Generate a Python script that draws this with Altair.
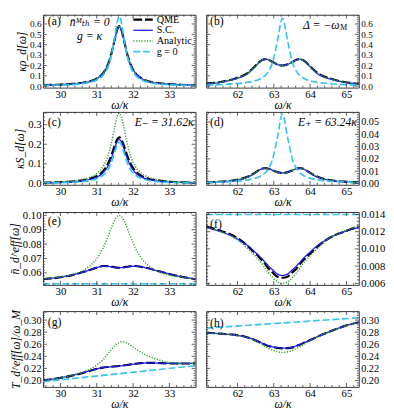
import math
import altair as alt
import pandas as pd

FONT = "Liberation Serif, DejaVu Serif, serif"
W = 157
HEIGHTS = [75, 75, 75, 78]

# ---------------- x grids ----------------
XL = [29.52, 29.92, 30.32, 30.62, 30.82, 31.02, 31.17, 31.30, 31.40, 31.50, 31.56, 31.62,
      31.68, 31.74, 31.84, 31.94, 32.07, 32.22, 32.42, 32.62, 32.92, 33.32, 33.72]
XR = [61.14, 61.54, 61.94, 62.24, 62.44, 62.59, 62.69, 62.77, 62.86, 62.96, 63.09, 63.24,
      63.39, 63.52, 63.62, 63.71, 63.79, 63.89, 64.04, 64.24, 64.54, 64.94, 65.34]
XL_DOMAIN = [29.52, 33.72]
XR_DOMAIN = [61.14, 65.34]
XL_TICKS = [30, 31, 32, 33]
XR_TICKS = [62, 63, 64, 65]

# ---------------- (a) kappa rho_d ----------------
A_QME = [0.0095, 0.0140, 0.0215, 0.0330, 0.0480, 0.0780, 0.1242, 0.2032, 0.3090, 0.4600, 0.5445, 0.5800,
         0.5445, 0.4600, 0.3090, 0.2032, 0.1242, 0.0780, 0.0480, 0.0330, 0.0215, 0.0140, 0.0095]
A_SC = [0.0095, 0.0138, 0.0212, 0.0325, 0.0472, 0.0768, 0.1225, 0.2000, 0.3040, 0.4520, 0.5350, 0.5700,
        0.5350, 0.4520, 0.3040, 0.2000, 0.1225, 0.0768, 0.0472, 0.0325, 0.0212, 0.0138, 0.0095]
A_AN = [0.0093, 0.0137, 0.0212, 0.0328, 0.0478, 0.0780, 0.1245, 0.2040, 0.3100, 0.4620, 0.5470, 0.5830,
        0.5470, 0.4620, 0.3100, 0.2040, 0.1245, 0.0780, 0.0478, 0.0328, 0.0212, 0.0137, 0.0093]
A_G0 = [0.0060, 0.0090, 0.0150, 0.0245, 0.0370, 0.0625, 0.1030, 0.1765, 0.2884, 0.4825, 0.6138, 0.6750,
        0.6138, 0.4825, 0.2884, 0.1765, 0.1030, 0.0625, 0.0370, 0.0245, 0.0150, 0.0090, 0.0060]

# ---------------- (b) ----------------
B_QME = [0.0240, 0.0400, 0.0750, 0.1180, 0.1779, 0.2299, 0.2544, 0.2610, 0.2539, 0.2352, 0.2108, 0.1990,
         0.2108, 0.2352, 0.2539, 0.2610, 0.2544, 0.2299, 0.1779, 0.1180, 0.0750, 0.0400, 0.0240]
B_SC = [0.0225, 0.0375, 0.0700, 0.1100, 0.1700, 0.2260, 0.2530, 0.2600, 0.2530, 0.2345, 0.2100, 0.1985,
        0.2100, 0.2345, 0.2530, 0.2600, 0.2530, 0.2260, 0.1700, 0.1100, 0.0700, 0.0375, 0.0225]
B_AN = [0.0235, 0.0395, 0.0745, 0.1175, 0.1775, 0.2300, 0.2550, 0.2620, 0.2540, 0.2340, 0.2085, 0.1960,
        0.2085, 0.2340, 0.2540, 0.2620, 0.2550, 0.2300, 0.1775, 0.1175, 0.0745, 0.0395, 0.0235]
B_G0 = [0.0100, 0.0150, 0.0240, 0.0350, 0.0480, 0.0650, 0.0830, 0.1050, 0.1450, 0.2220, 0.4200, 0.6550,
        0.4200, 0.2220, 0.1450, 0.1050, 0.0830, 0.0650, 0.0480, 0.0350, 0.0240, 0.0150, 0.0100]

# ---------------- (c) kappa S_d ----------------
C_QME = [0.0038, 0.0058, 0.0097, 0.0160, 0.0240, 0.0396, 0.0622, 0.0977, 0.1412, 0.1962, 0.2240, 0.2350,
         0.2240, 0.1962, 0.1412, 0.0977, 0.0622, 0.0396, 0.0240, 0.0160, 0.0097, 0.0058, 0.0038]
C_SC = [0.0031, 0.0048, 0.0080, 0.0133, 0.0200, 0.0333, 0.0531, 0.0853, 0.1268, 0.1829, 0.2128, 0.2250,
        0.2128, 0.1829, 0.1268, 0.0853, 0.0531, 0.0333, 0.0200, 0.0133, 0.0080, 0.0048, 0.0031]
C_AN = [0.0050, 0.0076, 0.0128, 0.0212, 0.0320, 0.0533, 0.0849, 0.1364, 0.2029, 0.2926, 0.3404, 0.3580,
        0.3404, 0.2926, 0.2029, 0.1364, 0.0849, 0.0533, 0.0320, 0.0212, 0.0128, 0.0076, 0.0050]
C_G0 = [0.0023, 0.0035, 0.0058, 0.0097, 0.0148, 0.0249, 0.0405, 0.0674, 0.1050, 0.1618, 0.1955, 0.2100,
        0.1955, 0.1618, 0.1050, 0.0674, 0.0405, 0.0249, 0.0148, 0.0097, 0.0058, 0.0035, 0.0023]

# ---------------- (d) ----------------
D_QME = [0.00087, 0.00145, 0.00271, 0.00502, 0.00798, 0.01082, 0.01221, 0.01252, 0.01196, 0.01072, 0.00924, 0.00858,
         0.00924, 0.01072, 0.01196, 0.01252, 0.01221, 0.01082, 0.00798, 0.00502, 0.00271, 0.00145, 0.00087]
D_SC = [0.00082, 0.00136, 0.00250, 0.00465, 0.00760, 0.01060, 0.01215, 0.01250, 0.01196, 0.01072, 0.00924, 0.00858,
        0.00924, 0.01072, 0.01196, 0.01250, 0.01215, 0.01060, 0.00760, 0.00465, 0.00250, 0.00136, 0.00082]
D_AN = [0.00087, 0.00145, 0.00271, 0.00500, 0.00795, 0.01080, 0.01220, 0.01250, 0.01190, 0.01060, 0.00900, 0.00820,
        0.00900, 0.01060, 0.01190, 0.01250, 0.01220, 0.01080, 0.00795, 0.00500, 0.00271, 0.00145, 0.00087]
D_G0 = [0.0007, 0.0011, 0.0018, 0.0027, 0.0039, 0.0053, 0.0069, 0.0089, 0.0123, 0.0190, 0.0360, 0.0565,
        0.0360, 0.0190, 0.0123, 0.0089, 0.0069, 0.0053, 0.0039, 0.0027, 0.0018, 0.0011, 0.0007]

# ---------------- (e) n_eff ----------------
E_QME = [0.0556, 0.0567, 0.0585, 0.0606, 0.0622, 0.0638, 0.0648, 0.0647, 0.0643, 0.0639, 0.0637, 0.0636,
         0.0637, 0.0639, 0.0643, 0.0647, 0.0648, 0.0642, 0.0632, 0.0618, 0.0598, 0.0574, 0.0556]
E_SC = [0.0557, 0.0567, 0.0585, 0.0606, 0.0622, 0.0638, 0.0647, 0.0646, 0.0642, 0.0638, 0.0636, 0.0635,
        0.0636, 0.0638, 0.0642, 0.0646, 0.0647, 0.0642, 0.0632, 0.0618, 0.0598, 0.0574, 0.0557]
E_AN = [0.0560, 0.0570, 0.0589, 0.0617, 0.0651, 0.0706, 0.0770, 0.0846, 0.0911, 0.0969, 0.0992, 0.1000,
        0.0992, 0.0969, 0.0911, 0.0846, 0.0770, 0.0706, 0.0651, 0.0617, 0.0589, 0.0570, 0.0560]
E_G0 = [0.0525, 0.0525]

# ---------------- (f) ----------------
F_QME = [0.0126, 0.0121, 0.0114, 0.0105, 0.0097, 0.0091, 0.0086, 0.0082, 0.0077, 0.0073, 0.0068, 0.00665,
         0.0068, 0.0073, 0.0077, 0.0082, 0.0086, 0.0090, 0.0096, 0.0104, 0.0113, 0.0120, 0.0126]
F_SC = [0.0125, 0.0120, 0.0113, 0.0105, 0.0098, 0.0092, 0.0088, 0.0084, 0.0080, 0.0076, 0.0071, 0.0069,
        0.0071, 0.0076, 0.0080, 0.0084, 0.0088, 0.0092, 0.0098, 0.0105, 0.0113, 0.0120, 0.0125]
F_AN = [0.0125, 0.0120, 0.0112, 0.0102, 0.0094, 0.0087, 0.0082, 0.0077, 0.0072, 0.0067, 0.0062, 0.0060,
        0.0062, 0.0067, 0.0072, 0.0077, 0.0082, 0.0087, 0.0094, 0.0102, 0.0113, 0.0121, 0.0127]
F_G0 = [0.0140, 0.0140]

# ---------------- (g) T_eff ----------------
G_QME = [0.2002, 0.2035, 0.2080, 0.2125, 0.2160, 0.2195, 0.2212, 0.2222, 0.2228, 0.2233, 0.2236, 0.2240,
         0.2244, 0.2249, 0.2257, 0.2266, 0.2277, 0.2287, 0.2292, 0.2290, 0.2284, 0.2281, 0.2282]
G_SC = [0.2002, 0.2036, 0.2082, 0.2128, 0.2163, 0.2197, 0.2213, 0.2222, 0.2227, 0.2232, 0.2235, 0.2239,
        0.2243, 0.2248, 0.2256, 0.2265, 0.2276, 0.2286, 0.2291, 0.2289, 0.2283, 0.2281, 0.2282]
G_AN = [0.2002, 0.2035, 0.2085, 0.2140, 0.2190, 0.2262, 0.2340, 0.2440, 0.2510, 0.2580, 0.2610, 0.2630,
        0.2640, 0.2638, 0.2620, 0.2580, 0.2525, 0.2465, 0.2405, 0.2360, 0.2305, 0.2285, 0.2283]
G_G0 = [0.1980, 0.2245]

# ---------------- (h) ----------------
H_QME = [0.2790, 0.2775, 0.2755, 0.2720, 0.2680, 0.2640, 0.2610, 0.2590, 0.2570, 0.2555, 0.2540, 0.2532,
         0.2535, 0.2548, 0.2570, 0.2592, 0.2613, 0.2640, 0.2680, 0.2735, 0.2810, 0.2900, 0.2965]
H_SC = [0.2788, 0.2773, 0.2753, 0.2718, 0.2680, 0.2642, 0.2613, 0.2593, 0.2573, 0.2558, 0.2543, 0.2536,
        0.2539, 0.2551, 0.2572, 0.2593, 0.2613, 0.2640, 0.2680, 0.2735, 0.2810, 0.2900, 0.2965]
H_AN = [0.2790, 0.2775, 0.2752, 0.2712, 0.2665, 0.2620, 0.2585, 0.2558, 0.2530, 0.2505, 0.2478, 0.2465,
        0.2475, 0.2500, 0.2528, 0.2558, 0.2585, 0.2620, 0.2672, 0.2732, 0.2810, 0.2900, 0.2965]
H_G0 = [0.2868, 0.3038]

SERIES = ["QME", "S.C.", "Analytic", "g = 0"]
STYLES = {
    "QME": dict(color="#000000", strokeDash=[9, 3], strokeWidth=2.2),
    "S.C.": dict(color="#1c1cf0", strokeWidth=1.3),
    "Analytic": dict(color="#2e9e2e", strokeDash=[1.2, 1.6], strokeWidth=1.5),
    "g = 0": dict(color="#35c3f0", strokeDash=[7, 3], strokeWidth=1.7),
}
FRAME = "#333333"
DUMMY = pd.DataFrame({"k": [0]})


def minor_ticks(dom, step, majors):
    out = []
    k0 = math.ceil(dom[0] / step - 1e-9)
    k1 = math.floor(dom[1] / step + 1e-9)
    for k in range(k0, k1 + 1):
        v = round(k * step, 6)
        if all(abs(v - m) > step * 0.1 for m in majors):
            out.append(v)
    return out


def txt(s, x, y, align="left", size=12, style="normal"):
    return alt.Chart(DUMMY).mark_text(text=s, align=align, baseline="middle", font=FONT,
                                      fontSize=size, fontStyle=style, color="black").encode(
        x=alt.value(x), y=alt.value(y))


def panel(xs, qme, sc, an, g0x, g0y, xdom, xticks, ydom, yticks, yfmt, ystep,
          side, ytitle, H, extras, ylab=11):
    rows = []
    for name, xx, yy in [("QME", xs, qme), ("S.C.", xs, sc), ("Analytic", xs, an), ("g = 0", g0x, g0y)]:
        for a, b in zip(xx, yy):
            rows.append({"x": a, "y": b, "s": name})
    df = pd.DataFrame(rows)
    xscale = alt.Scale(domain=xdom, nice=False, zero=False)
    yscale = alt.Scale(domain=ydom, nice=False, zero=False)
    xaxis = alt.Axis(values=xticks, format="d", labelPadding=1, titlePadding=0,
                     titleFontStyle="italic", labelOverlap=False)
    yargs = dict(values=yticks, format=yfmt, orient=side, labelPadding=2, labelOverlap=False,
                 labelFontSize=ylab)
    if side == "left":
        yargs.update(titlePadding=1, titleFontStyle="italic")
    yaxis = alt.Axis(**yargs)

    def X(field="x"):
        return alt.X(f"{field}:Q", scale=xscale, axis=xaxis, title="ω/κ")

    def Y(field="y"):
        if ytitle:
            return alt.Y(f"{field}:Q", scale=yscale, axis=yaxis, title=ytitle)
        return alt.Y(f"{field}:Q", scale=yscale, axis=yaxis, title=None)

    base = alt.Chart(df).encode(x=X(), y=Y())
    layers = []
    for name in SERIES:
        layers.append(base.transform_filter(alt.datum.s == name).mark_line(
            clip=True, interpolate="monotone", **STYLES[name]))

    # frame ticks (inward)
    xmin = minor_ticks(xdom, 0.2, xticks)
    ymin = minor_ticks(ydom, ystep / 5, yticks)
    for vals, ln in [(xticks, 4), (xmin, 2)]:
        tdf = pd.DataFrame({"x": vals})
        tb = alt.Chart(tdf).mark_rule(color=FRAME, strokeWidth=0.8).encode(x=X())
        layers.append(tb.encode(y=alt.value(0), y2=alt.value(ln)))
        layers.append(tb.encode(y=alt.value(H - ln), y2=alt.value(H)))
    for vals, ln in [(yticks, 4), (ymin, 2)]:
        tdf = pd.DataFrame({"y": vals})
        tb = alt.Chart(tdf).mark_rule(color=FRAME, strokeWidth=0.8).encode(y=Y())
        layers.append(tb.encode(x=alt.value(0), x2=alt.value(ln)))
        layers.append(tb.encode(x=alt.value(W - ln), x2=alt.value(W)))
    layers += extras
    return alt.layer(*layers).properties(width=W, height=H)


# legend inside (a)
LEGEND_LABELS = ["QME", "S.C.", "Analytic", "g = 0"]
LEGEND_Y = [5, 16, 27, 38]
legend = []
for name, lab, ly in zip(SERIES, LEGEND_LABELS, LEGEND_Y):
    legend.append(alt.Chart(DUMMY).mark_rule(**STYLES[name]).encode(
        x=alt.value(93), x2=alt.value(113), y=alt.value(ly)))
    legend.append(txt(lab, 117, ly, size=10.5))

pa = panel(XL, A_QME, A_SC, A_AN, XL, A_G0, XL_DOMAIN, XL_TICKS, [-0.014, 0.689],
           [0, 0.1, 0.2, 0.3, 0.4, 0.5, 0.6], ".1f", 0.1, "left", "κρ_d[ω]", HEIGHTS[0],
           [txt("(a)", 5, 7), txt("n̄ᴹₜₕ = 0", 48, 8, "center", 12, "italic"),
            txt("g = κ", 48, 22, "center", 12, "italic")] + legend, ylab=9.5)
pb = panel(XR, B_QME, B_SC, B_AN, XR, B_G0, XR_DOMAIN, XR_TICKS, [-0.014, 0.689],
           [0, 0.1, 0.2, 0.3, 0.4, 0.5, 0.6], ".1f", 0.1, "right", None, HEIGHTS[0],
           [txt("(b)", 4, 7), txt("Δ = −ω", 137, 11, "right", 12, "italic"),
            txt("M", 138, 14, "left", 8)], ylab=9.5)
pc = panel(XL, C_QME, C_SC, C_AN, XL, C_G0, XL_DOMAIN, XL_TICKS, [-0.007, 0.365],
           [0, 0.1, 0.2, 0.3], ".1f", 0.1, "left", "κS_d[ω]", HEIGHTS[1],
           [txt("(c)", 5, 10), txt("E₋ = 31.62κ", 155, 10, "right", 12, "italic")])
pd_ = panel(XR, D_QME, D_SC, D_AN, XR, D_G0, XR_DOMAIN, XR_TICKS, [-0.0011, 0.0583],
            [0, 0.01, 0.02, 0.03, 0.04, 0.05], ".2f", 0.01, "right", None, HEIGHTS[1],
            [txt("(d)", 4, 10), txt("E₊ = 63.24κ", 155, 10, "right", 12, "italic")], ylab=10.5)
pe = panel(XL, E_QME, E_SC, E_AN, XL_DOMAIN, E_G0, XL_DOMAIN, XL_TICKS, [0.0517, 0.1023],
           [0.06, 0.07, 0.08, 0.09, 0.10], ".2f", 0.01, "left", "n̄_d^eff[ω]", HEIGHTS[2],
           [txt("(e)", 5, 9)])
pf = panel(XR, F_QME, F_SC, F_AN, XR_DOMAIN, F_G0, XR_DOMAIN, XR_TICKS, [0.00582, 0.01429],
           [0.006, 0.008, 0.010, 0.012, 0.014], ".3f", 0.002, "right", None, HEIGHTS[2],
           [txt("(f)", 4, 12)])
pg = panel(XL, G_QME, G_SC, G_AN, XL_DOMAIN, G_G0, XL_DOMAIN, XL_TICKS, [0.1893, 0.3149],
           [0.20, 0.22, 0.24, 0.26, 0.28, 0.30], ".2f", 0.02, "left", "T_d^eff[ω]/ω_M", HEIGHTS[3],
           [txt("(g)", 5, 11)], ylab=10.5)
ph = panel(XR, H_QME, H_SC, H_AN, XR_DOMAIN, H_G0, XR_DOMAIN, XR_TICKS, [0.1893, 0.3149],
           [0.20, 0.22, 0.24, 0.26, 0.28, 0.30], ".2f", 0.02, "right", None, HEIGHTS[3],
           [txt("(h)", 4, 12)], ylab=10.5)

chart = alt.concat(pa, pb, pc, pd_, pe, pf, pg, ph, columns=2,
                   spacing={"row": 0, "column": 9}, align="each").properties(
    padding={"left": 0, "top": 0, "right": 0, "bottom": 0}
).configure_view(stroke=FRAME, strokeWidth=1).configure_axis(
    labelFont=FONT, titleFont=FONT, labelFontSize=11, titleFontSize=12,
    labelColor="black", titleColor="black", titleFontWeight="normal",
    grid=False, domain=False, ticks=False
)

chart.save("out.html", embed_options={"renderer": "svg", "actions": False})
